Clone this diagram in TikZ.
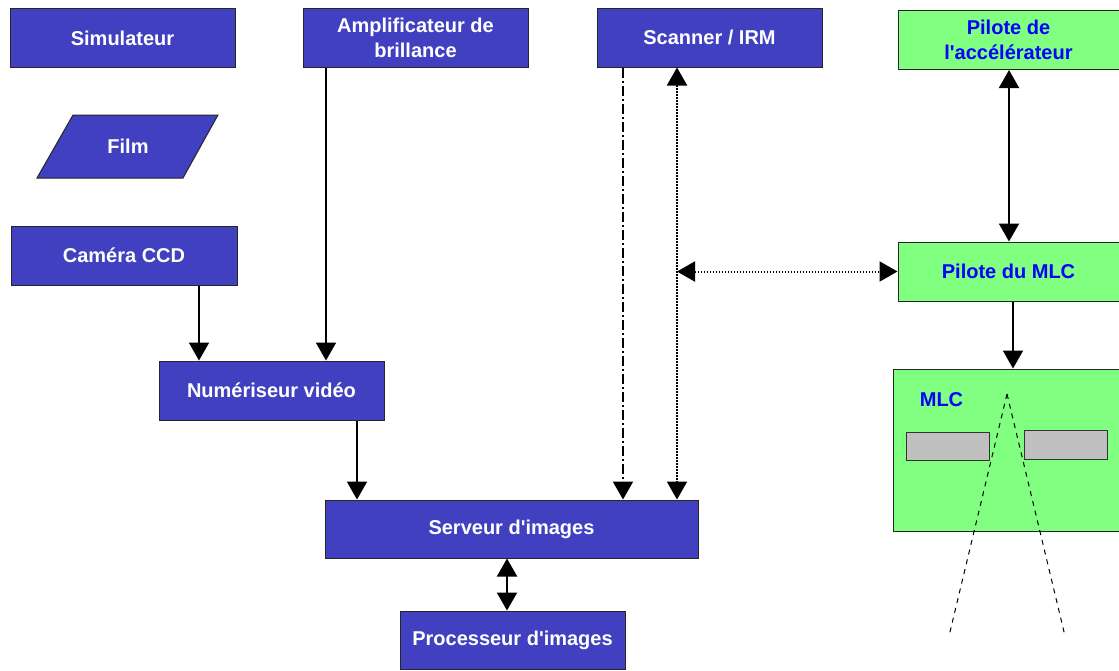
\documentclass[tikz,border=0pt]{standalone}
\usepackage{fontspec}
\setmainfont{Liberation Sans}
\usetikzlibrary{arrows.meta}
\definecolor{boxblue}{RGB}{64,64,192}
\definecolor{boxgreen}{RGB}{128,255,128}
\definecolor{leafgrey}{RGB}{192,192,192}
\definecolor{txtblue}{RGB}{0,0,255}
\newcommand{\apos}{\textquotesingle}
\begin{document}
\begin{tikzpicture}[x=1pt,y=-1pt,
  boxfont/.style={font=\bfseries\fontsize{20}{25}\selectfont},
  bluebox/.style={boxfont, draw=black!85, line width=1pt, fill=boxblue, text=white,
    align=center, inner sep=0pt, minimum width=225, minimum height=59},
  greenbox/.style={boxfont, draw=black!85, line width=1pt, fill=boxgreen, text=txtblue,
    align=center, inner sep=0pt, minimum width=220, minimum height=59},
  tip/.tip={Triangle[length=18pt,width=20pt]},
  arr/.style={line width=2pt, -tip},
  darr/.style={line width=2pt, tip-tip},
  dotline/.style={dash pattern=on 1.5pt off 1.5pt},
  dashdotline/.style={dash pattern=on 10pt off 3pt on 2pt off 3pt},
  beam/.style={line width=1pt, dash pattern=on 5pt off 5pt},
]
\useasboundingbox (0,0) rectangle (1119,670);

% imaging sources
\node[bluebox] (sim) at (122.5,38) {Simulateur};
\node[bluebox] (ampli) at (415.5,37.5) {Amplificateur de\\brillance};
\node[bluebox] (scan) at (709.5,37.5) {Scanner / IRM};
\draw[draw=black!85, line width=1pt, fill=boxblue] (73,115) -- (218,115) -- (183,178) -- (37,178) -- cycle;
\node[boxfont, text=white] (film) at (128,146.5) {Film};
\node[bluebox, minimum width=226] (ccd) at (124,255.5) {Caméra CCD};

% digitising and image handling
\node[bluebox] (num) at (271.5,390.5) {Numériseur vidéo};
\node[bluebox, minimum width=373, minimum height=58] (serv) at (511.5,529) {Serveur d\apos images};
\node[bluebox, minimum height=58] (proc) at (512.5,640) {Processeur d\apos images};

% accelerator side
\node[greenbox, minimum width=221] (pacc) at (1008.5,40) {Pilote de\\l\apos accélérateur};
\node[greenbox, minimum width=221] (pmlc) at (1008.5,271.5) {Pilote du MLC};
\node[draw=black!85, line width=1pt, fill=boxgreen, minimum width=226, minimum height=162, inner sep=0pt] (mlc) at (1006,450) {};
\node[boxfont, text=txtblue] (mlclabel) at (941.5,400) {MLC};
\node[draw=black!80, line width=1pt, fill=leafgrey, minimum width=83, minimum height=28, inner sep=0pt] (leafl) at (947.5,446) {};
\node[draw=black!80, line width=1pt, fill=leafgrey, minimum width=83, minimum height=29, inner sep=0pt] (leafr) at (1065.5,444.5) {};
\coordinate (apex) at (1007,394);
\coordinate (beaml) at (949,636);
\coordinate (beamr) at (1065,636);
\draw[beam] (apex) -- (beaml);
\draw[beam] (apex) -- (beamr);

% connections
\draw[arr] (ccd.south -| 199,0) -- (num.north -| 199,0);
\draw[arr] (ampli.south -| 326,0) -- (num.north -| 326,0);
\draw[arr] (num.south -| 357,0) -- (serv.north -| 357,0);
\draw[arr, dashdotline] (scan.south -| 623,0) -- (serv.north -| 623,0);
\draw[darr, dotline] (scan.south -| 677,0) -- (serv.north -| 677,0);
\coordinate (tap) at (677,271.5);
\draw[darr, dotline] (tap) -- (pmlc.west);
\draw[darr] (pacc.south -| 1009,0) -- (pmlc.north -| 1009,0);
\draw[arr] (pmlc.south -| 1013,0) -- (mlc.north -| 1013,0);
\draw[darr] (serv.south -| 507,0) -- (proc.north -| 507,0);
\end{tikzpicture}
\end{document}
